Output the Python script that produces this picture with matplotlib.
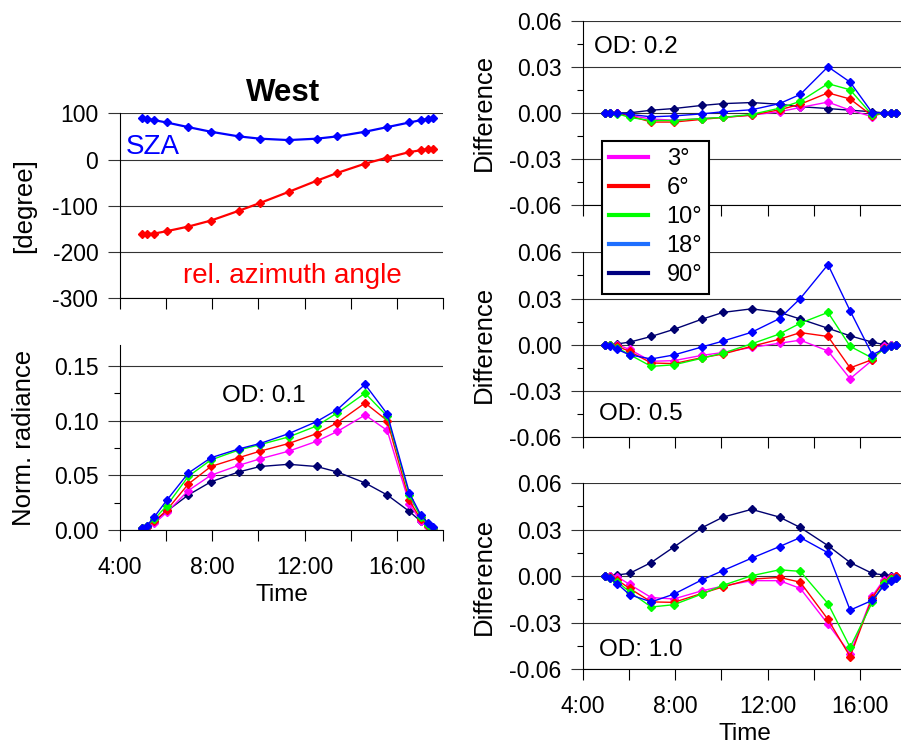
import matplotlib
matplotlib.use("Agg")
import matplotlib.pyplot as plt
from matplotlib.lines import Line2D
from matplotlib.ticker import MultipleLocator, FuncFormatter

plt.rcParams['font.family'] = ['Liberation Sans', 'DejaVu Sans']
plt.rcParams['axes.unicode_minus'] = False

# measurement times (decimal hours)
time = [4.94, 5.16, 5.49, 6.02, 6.96, 7.94, 9.14, 10.07, 11.31, 12.52,
        13.42, 14.62, 15.58, 16.54, 17.03, 17.36, 17.58]

sza = [90, 88, 85, 80, 70, 60, 50, 45, 42, 45, 50, 60, 70, 80, 85, 88, 90]
rel_azimuth = [-161, -161, -160, -155, -145, -132, -111, -94, -70, -46,
               -29, -9, 4, 16, 20, 23, 23]

angles = ['3°', '6°', '10°', '18°', '90°']

# normalised radiance, OD 0.1
rad_03 = [0.001, 0.003, 0.006, 0.016, 0.036, 0.050, 0.059, 0.065, 0.072, 0.081, 0.090, 0.105, 0.091, 0.024, 0.008, 0.003, 0.001]
rad_06 = [0.002, 0.003, 0.008, 0.018, 0.042, 0.058, 0.066, 0.072, 0.079, 0.088, 0.098, 0.116, 0.100, 0.027, 0.010, 0.004, 0.002]
rad_10 = [0.002, 0.004, 0.010, 0.022, 0.049, 0.064, 0.073, 0.078, 0.085, 0.095, 0.107, 0.125, 0.104, 0.032, 0.012, 0.005, 0.002]
rad_18 = [0.002, 0.004, 0.012, 0.027, 0.052, 0.066, 0.074, 0.079, 0.088, 0.099, 0.110, 0.133, 0.106, 0.034, 0.014, 0.006, 0.003]
rad_90 = [0.001, 0.003, 0.008, 0.017, 0.032, 0.044, 0.053, 0.058, 0.060, 0.058, 0.053, 0.043, 0.032, 0.017, 0.008, 0.004, 0.002]

# differences, OD 0.2
d02_03 = [0, 0, 0, -0.0017, -0.004, -0.0048, -0.0037, -0.003, -0.0015, 0.0007, 0.0035, 0.007, 0.0017, -0.0025, 0, 0, 0]
d02_06 = [0, 0, 0, -0.002, -0.006, -0.006, -0.0043, -0.003, -0.0015, 0.002, 0.0056, 0.013, 0.009, -0.002, 0, 0, 0]
d02_10 = [0, 0, -0.0005, -0.003, -0.005, -0.005, -0.0037, -0.003, -0.001, 0.003, 0.0075, 0.019, 0.015, -0.0015, 0, 0, 0]
d02_18 = [0, 0, 0, -0.001, -0.0026, -0.002, -0.0007, 0.0007, 0.002, 0.006, 0.012, 0.030, 0.020, 0, 0, 0, 0]
d02_90 = [0, 0, 0, 0, 0.0017, 0.0028, 0.0048, 0.006, 0.0067, 0.0056, 0.004, 0.0028, 0.0017, 0.0007, 0, 0, 0]

# differences, OD 0.5
d05_03 = [0, 0, 0, -0.003, -0.0107, -0.0103, -0.0069, -0.005, -0.0017, 0.001, 0.003, -0.004, -0.022, -0.010, -0.0006, 0, 0]
d05_06 = [0, 0, -0.001, -0.0043, -0.0118, -0.0122, -0.0084, -0.006, -0.001, 0.0036, 0.0079, 0.0054, -0.015, -0.0096, -0.002, -0.001, 0]
d05_10 = [0, 0, -0.002, -0.0064, -0.014, -0.013, -0.0088, -0.0054, 0.0006, 0.007, 0.014, 0.021, -0.001, -0.0086, -0.003, -0.001, 0]
d05_18 = [0, -0.0005, -0.003, -0.0065, -0.0092, -0.0066, -0.0015, 0.0024, 0.0081, 0.017, 0.030, 0.052, 0.022, -0.0064, -0.003, -0.001, 0]
d05_90 = [0, 0, 0.0006, 0.0017, 0.0054, 0.010, 0.0165, 0.021, 0.0233, 0.021, 0.0167, 0.0107, 0.0058, 0.0017, 0.0002, 0, 0]

# differences, OD 1.0
d10_03 = [0, 0, -0.0005, -0.0054, -0.0139, -0.0148, -0.0096, -0.0065, -0.003, -0.003, -0.008, -0.031, -0.050, -0.013, -0.0026, -0.0005, 0]
d10_06 = [0, -0.0005, -0.0026, -0.008, -0.0167, -0.017, -0.0113, -0.007, -0.002, -0.0009, -0.004, -0.028, -0.052, -0.014, -0.0037, -0.001, 0]
d10_10 = [0, -0.001, -0.0037, -0.0102, -0.020, -0.0185, -0.0117, -0.006, 0.0002, 0.004, 0.003, -0.0178, -0.046, -0.017, -0.0048, -0.002, -0.001]
d10_18 = [0, -0.0015, -0.005, -0.012, -0.0167, -0.0117, -0.0026, 0.0035, 0.0115, 0.019, 0.0248, 0.015, -0.022, -0.0157, -0.0065, -0.003, -0.001]
d10_90 = [0, 0, 0.0007, 0.0017, 0.0087, 0.0187, 0.031, 0.038, 0.043, 0.038, 0.0313, 0.0196, 0.0087, 0.0017, 0.0007, 0, 0]

colors = ['#ff00ff', '#ff0000', '#00ff00', '#0000ff', '#000070']
legend_colors = ['#ff00ff', '#ff0000', '#00ff00', '#1e6fff', '#000080']
order = [4, 0, 1, 2, 3]   # draw 90 deg first

TICK = 16.5
LAB = 18.5

fig = plt.figure(figsize=(9.01, 7.47), dpi=100)


def style(ax, xlabels=False):
    ax.set_xlim(4, 18)
    ax.xaxis.set_major_locator(MultipleLocator(2))
    ax.xaxis.set_major_formatter(FuncFormatter(
        lambda v, p: f"{int(round(v))}:00" if int(round(v)) % 4 == 0 else ""))
    ax.tick_params(axis='x', direction='out', length=8, width=0.8,
                   labelsize=TICK, pad=11, labelbottom=xlabels)
    ax.tick_params(axis='y', which='major', direction='out', length=8.6,
                   width=0.8, labelsize=TICK, pad=7, color='#333333')
    ax.tick_params(axis='y', which='minor', direction='out', length=4.3, width=0.8)
    for s in ['top', 'right']:
        ax.spines[s].set_visible(False)
    for s in ['left', 'bottom']:
        ax.spines[s].set_linewidth(0.8)
    ax.grid(axis='y', which='major', color='#333333', lw=0.8)
    ax.set_axisbelow(True)
    if xlabels:
        ax.set_xlabel('Time', fontsize=17.5, labelpad=3)


# ---- top left: angles
ax1 = fig.add_axes([0.1332, 0.6007, 0.3585, 0.2477])
style(ax1)
ax1.plot(time, sza, color='#0000ff', lw=1.6, marker='D', ms=4)
ax1.plot(time, rel_azimuth, color='#ff0000', lw=1.6, marker='D', ms=4)
ax1.set_ylim(-300, 100)
ax1.yaxis.set_major_locator(MultipleLocator(100))
ax1.set_ylabel('[degree]', fontsize=LAB)
ax1.yaxis.set_label_coords(-0.26, 0.5)
ax1.text(0.505, 1.068, 'West', transform=ax1.transAxes, ha='center',
         va='baseline', fontsize=22.5, fontweight='bold')
ax1.text(0.0186, 0.778, 'SZA', transform=ax1.transAxes, color='#0000ff',
         fontsize=20, va='baseline')
ax1.text(0.195, 0.081, 'rel. azimuth angle', transform=ax1.transAxes,
         color='#ff0000', fontsize=20, va='baseline')

# ---- bottom left: normalised radiance
ax2 = fig.add_axes([0.1332, 0.2905, 0.3585, 0.2477])
style(ax2, xlabels=True)
rad = [rad_03, rad_06, rad_10, rad_18, rad_90]
for i in order:
    ax2.plot(time, rad[i], color=colors[i], lw=1.0, marker='D', ms=4)
ax2.set_ylim(0, 0.169)
ax2.yaxis.set_major_locator(MultipleLocator(0.05))
ax2.yaxis.set_minor_locator(MultipleLocator(0.025))
ax2.yaxis.set_major_formatter(FuncFormatter(lambda v, p: f"{v:.2f}"))
ax2.set_ylabel('Norm. radiance', fontsize=LAB)
ax2.yaxis.set_label_coords(-0.26, 0.5)
ax2.text(0.316, 0.694, 'OD: 0.1', transform=ax2.transAxes, fontsize=17.5,
         va='baseline')

# ---- right column: differences
diffs = [
    ([d02_03, d02_06, d02_10, d02_18, d02_90], 'OD: 0.2', (0.035, 0.823)),
    ([d05_03, d05_06, d05_10, d05_18, d05_90], 'OD: 0.5', (0.05, 0.0935)),
    ([d10_03, d10_06, d10_10, d10_18, d10_90], 'OD: 1.0', (0.05, 0.070)),
]
rects = [[0.647, 0.7256, 0.3585, 0.2467],
         [0.647, 0.4146, 0.3585, 0.2477],
         [0.647, 0.1044, 0.3585, 0.2490]]
for k, ((series, od, pos), rect) in enumerate(zip(diffs, rects)):
    ax = fig.add_axes(rect)
    style(ax, xlabels=(k == 2))
    for i in order:
        ax.plot(time, series[i], color=colors[i], lw=1.0, marker='D', ms=4)
    ax.set_ylim(-0.06, 0.06)
    ax.yaxis.set_major_locator(MultipleLocator(0.03))
    ax.yaxis.set_minor_locator(MultipleLocator(0.015))
    ax.yaxis.set_major_formatter(FuncFormatter(lambda v, p: f"{v:.2f}"))
    ax.set_ylabel('Difference', fontsize=LAB)
    ax.yaxis.set_label_coords(-0.27, 0.5)
    ax.text(pos[0], pos[1], od, transform=ax.transAxes, fontsize=17.5,
            va='baseline')

handles = [Line2D([], [], color=c, lw=3) for c in legend_colors]
leg = fig.legend(handles, angles, loc='upper left',
                 bbox_to_anchor=(601.7 / 901, 1 - 141 / 747),
                 bbox_transform=fig.transFigure, borderaxespad=0,
                 fontsize=17, handlelength=1.65, handletextpad=0.8,
                 labelspacing=0.3, borderpad=0.3, fancybox=False,
                 framealpha=1, edgecolor='black')
leg.get_frame().set_linewidth(1.5)
leg.set_zorder(10)

fig.savefig('out.png', dpi=100)
